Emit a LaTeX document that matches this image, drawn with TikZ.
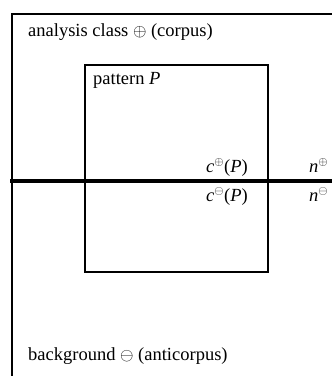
\documentclass[tikz,border=0pt]{standalone}
\usepackage{fontspec}
\setmainfont{Liberation Serif}
\begin{document}
\begin{tikzpicture}[x=1pt,y=-1pt,
  lbl/.style={inner sep=0pt,font=\fontsize{18.5}{22}\selectfont},
  frame/.style={draw,line width=2.2pt},
  box/.style={draw,line width=1.1pt}]
\useasboundingbox (0,0) rectangle (332,376);
\coordinate (fbl) at (12,376);
\coordinate (ftl) at (12,14);
\coordinate (ftr) at (332,14);
\draw[frame] (fbl) -- (ftl) -- (ftr);
\coordinate (pa) at (85,65);
\coordinate (pb) at (268,272);
\draw[box] (pa) rectangle (pb);
\coordinate (hl) at (10,181);
\coordinate (hr) at (332,181);
\draw[line width=4.2pt] (hl) -- (hr);
\node[lbl,anchor=base west] (ac) at (28,36) {analysis class $\oplus$ (corpus)};
\node[lbl,anchor=base west] (pp) at (93,84) {pattern \textit{P}};
\node[lbl,anchor=base east] (cp) at (248,172) {\textit{c}$^{\oplus}$(\textit{P})};
\node[lbl,anchor=base west] (np) at (309,172) {\textit{n}$^{\oplus}$};
\node[lbl,anchor=base east] (cm) at (248,201) {\textit{c}$^{\ominus}$(\textit{P})};
\node[lbl,anchor=base west] (nm) at (309,201) {\textit{n}$^{\ominus}$};
\node[lbl,anchor=base west] (bg) at (28,360) {background $\ominus$ (anticorpus)};
\end{tikzpicture}
\end{document}
